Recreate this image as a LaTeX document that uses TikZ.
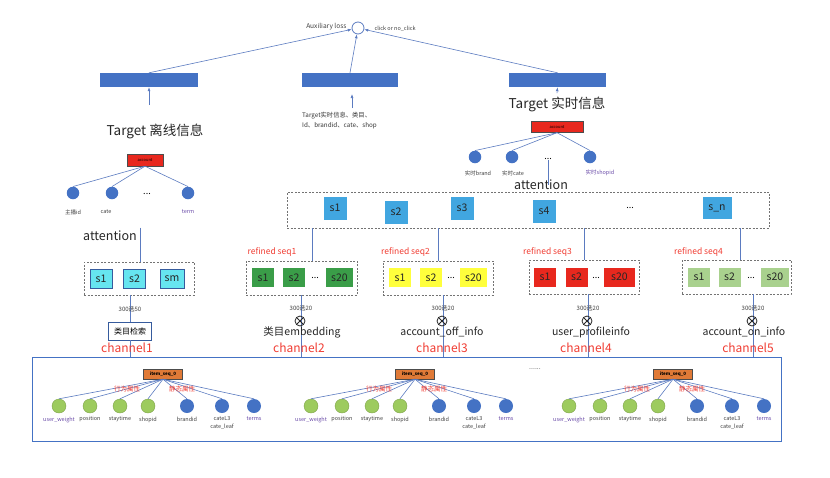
\documentclass[tikz,border=0pt]{standalone}
\usepackage{fontspec}
\setmainfont{Noto Sans CJK SC}
\usepackage{xcolor}
\usepackage{tikz}
\usetikzlibrary{arrows.meta,positioning}

\definecolor{barblue}{HTML}{4472C4}
\definecolor{lineblue}{HTML}{5B7BC0}
\definecolor{cellblue}{HTML}{41A6E0}
\definecolor{cyancell}{HTML}{66E5F0}
\definecolor{dgreen}{HTML}{3A9D48}
\definecolor{yelcell}{HTML}{FFFF3C}
\definecolor{acctred}{HTML}{E8281E}
\definecolor{lgreen}{HTML}{A9D18E}
\definecolor{leafgreen}{HTML}{9DCB5E}
\definecolor{seqorange}{HTML}{E07A37}
\definecolor{purp}{HTML}{6A4BA8}
\definecolor{redtxt}{HTML}{F03C32}

\begin{document}
\begin{tikzpicture}[x=1pt, y=-1pt,
    ln/.style={draw=lineblue, line width=0.6pt},
    arr/.style={ln, -{Latex[length=4pt, width=3pt]}},
    bar/.style={fill=barblue, minimum height=14pt, inner sep=0},
    acct/.style={draw=black!70, fill=acctred, minimum width=36pt, minimum height=12pt, inner sep=0, font=\fontsize{4}{5}\selectfont},
    leaf/.style={circle, fill=barblue, minimum size=12.5pt, inner sep=0},
    gleaf/.style={circle, fill=leafgreen, draw=leafgreen!80!black, line width=0.4pt, minimum size=14pt, inner sep=0},
    leaflbl/.style={font=\fontsize{5.5}{8}\selectfont, text=black!75, inner sep=0, align=center},
    grp/.style={draw=black!55, dash pattern=on 2pt off 1.5pt, line width=0.6pt, inner sep=0},
    cell/.style={minimum width=22pt, minimum height=19pt, inner sep=0, font=\fontsize{10.5}{12}\selectfont, text=black!85},
    dots/.style={font=\fontsize{9}{10}\selectfont, inner sep=0},
    reflbl/.style={font=\fontsize{8.5}{10}\selectfont, text=redtxt},
    chan/.style={font=\fontsize{12}{14}\selectfont, text=redtxt},
    head/.style={font=\fontsize{13.5}{16}\selectfont, text=black!85},
    attn/.style={font=\fontsize{12.5}{14}\selectfont, text=black!85},
    sel/.style={font=\fontsize{6}{7}\selectfont, text=black!75, inner sep=0},
    ox/.style={circle, draw=black!85, line width=0.8pt, minimum size=10pt, inner sep=0,
      path picture={\draw[black!85, line width=0.8pt]
        (path picture bounding box.north west) -- (path picture bounding box.south east)
        (path picture bounding box.north east) -- (path picture bounding box.south west);}},
    midlbl/.style={font=\fontsize{10.5}{12}\selectfont, text=black!85},
    seqbox/.style={draw=black!70, fill=seqorange, minimum width=39pt, minimum height=10pt, inner sep=0, font=\fontsize{4.5}{5}\selectfont\bfseries},
    attr/.style={font=\fontsize{6.5}{8}\selectfont, text=redtxt, inner sep=0}
]
\useasboundingbox (0,0) rectangle (830,477);

% auxiliary loss and the three towers
\node[circle, draw=lineblue, line width=0.8pt, minimum size=12pt, inner sep=0] (aux) at (358,28) {};
\node[font=\fontsize{6.6}{8}\selectfont, text=black!75, anchor=east] (auxt) at (350,27) {Auxiliary loss};
\node[font=\fontsize{5.5}{7}\selectfont, text=black!75, anchor=west] (clk) at (371,29) {click or no\_click};

\node[bar, minimum width=98pt] (barL) at (149,80) {};
\node[bar, minimum width=96pt] (barM) at (350,80) {};
\node[bar, minimum width=97pt] (barR) at (557.5,80) {};
\draw[arr] (barL.north) -- (aux);
\draw[arr] (barM.north) -- (aux);
\draw[arr] (barR.north) -- (aux);

\coordinate (inL) at (149,105);
\draw[arr] (inL) -- (barL.south);
\node[head] (tgtL) at (155,131) {Target 离线信息};

\coordinate (inM) at (352,108);
\coordinate (tipM) at (352,94);
\draw[arr] (inM) -- (tipM);
\node[font=\fontsize{6.3}{10}\selectfont, align=left, anchor=north west, inner sep=0, text=black!80] (tgtM) at (302,112) {Target实时信息、类目、\\Id、brandid、cate、shop};

\node[head] (tgtR) at (557,104) {Target 实时信息};
\draw[arr] (tgtR.north) -- (barR.south);

% realtime target tree
\node[acct, minimum width=52pt, minimum height=11pt] (acR) at (557,127) {account};
\node[leaf] (r1) at (475,157) {};
\node[leaf] (r2) at (512,157) {};
\node[dots] (rdots) at (548,159) {...};
\node[leaf] (r3) at (590,157) {};
\draw[ln] (acR.south) -- (r1.north);
\draw[ln] (acR.south) -- (r2.north);
\draw[ln] (acR.south) -- (r3.north);
\node[leaflbl] (r1t) at (478,173) {实时brand};
\node[leaflbl] (r2t) at (513,173) {实时cate};
\node[leaflbl, text=purp] (r3t) at (600,173) {实时shopid};

% offline target tree
\node[acct] (acL) at (145,160) {account};
\node[leaf] (l1) at (73,193) {};
\node[leaf] (l2) at (112,193) {};
\node[dots] (ldots) at (147,194) {...};
\node[leaf] (l3) at (188,193) {};
\draw[ln] (acL.south) -- (l1.north);
\draw[ln] (acL.south) -- (l2.north);
\draw[ln] (acL.south) -- (l3.north);
\node[leaflbl] (l1t) at (73,212) {主播id};
\node[leaflbl] (l2t) at (106,212) {cate};
\node[leaflbl, text=purp] (l3t) at (188,212) {term};

% outer frame of the item sequences
\node[draw=barblue, line width=1pt, minimum width=749pt, minimum height=84pt, inner sep=0] (frame) at (406.5,399) {};

% channel1
\node[attn] (attL) at (110,236) {attention};
\node[grp, minimum width=110pt, minimum height=33pt] (g1) at (139,278.5) {};
\draw[ln] (attL.north east) -- (attL.north east |- g1.north);
\node[cell, fill=cyancell, draw=barblue!80!black] (g1a) at (101,278.5) {s1};
\node[cell, fill=cyancell, draw=barblue!80!black] (g1b) at (134.5,278.5) {s2};
\node[cell, fill=cyancell, draw=barblue!80!black, minimum width=24pt] (g1c) at (172,278.5) {sm};
\node[draw=barblue!80!black, font=\fontsize{8}{10}\selectfont, minimum width=43pt, minimum height=18pt, inner sep=0] (srch) at (130,331) {类目检索};
\draw[ln] (srch.north |- g1.south) -- (srch.north);
\draw[ln] (srch.south) -- (srch.south |- frame.north);
\node[sel] (sel1) at (130,309) {300选50};
\node[chan] (ch1) at (127,348) {channel1};

% attention over the item sequences
\node[attn] (attM) at (541,185) {attention};
\draw[ln] (rdots.south) -- (rdots.south |- attM.center);
\node[grp, minimum width=482pt, minimum height=36pt] (g0) at (528,210) {};
\node[cell, fill=cellblue, minimum width=23pt, minimum height=23pt] (s1) at (335,208) {s1};
\node[cell, fill=cellblue, minimum width=23pt, minimum height=23pt] (s2) at (396,212) {s2};
\node[cell, fill=cellblue, minimum width=23pt, minimum height=23pt] (s3) at (462,208) {s3};
\node[cell, fill=cellblue, minimum width=23pt, minimum height=23pt] (s4) at (544,211) {s4};
\node[dots] (sdots) at (630,208) {...};
\node[cell, fill=cellblue, minimum width=29pt, minimum height=22pt] (sn) at (717,208) {s\_n};

% channel2
\node[grp, minimum width=111pt, minimum height=34pt] (g2) at (301.5,278) {};
\node[cell, fill=dgreen] (g2a) at (263,277.5) {s1};
\node[cell, fill=dgreen] (g2b) at (294,277.5) {s2};
\node[dots] (g2d) at (315,278) {...};
\node[cell, fill=dgreen, minimum width=27pt] (g2c) at (339.5,277.5) {s20};
\node[reflbl] (rf1) at (272,252) {refined seq1};
\draw[ln] ([xshift=10.5pt]g2.north) -- ([xshift=10.5pt]g2.north |- g0.south);
\draw[ln] (g2.south) -- (g2.south |- frame.north);
\node[sel] (sel2) at (301,308) {300选20};
\node[ox] (ox2) at (300,321) {};
\node[midlbl] (emb2) at (302,332) {类目embedding};
\node[chan] (ch2) at (299,348) {channel2};

% channel3
\node[grp, minimum width=110pt, minimum height=34pt] (g3) at (438,278) {};
\node[cell, fill=yelcell] (g3a) at (400,277.5) {s1};
\node[cell, fill=yelcell] (g3b) at (431,277.5) {s2};
\node[dots] (g3d) at (451,278) {...};
\node[cell, fill=yelcell, minimum width=27pt] (g3c) at (473.5,277.5) {s20};
\node[reflbl] (rf2) at (405.5,252) {refined seq2};
\draw[ln] (g3.north) -- (g3.north |- g0.south);
\draw[ln] ([xshift=5pt]g3.south) -- ([xshift=5pt]g3.south |- frame.north);
\node[sel] (sel3) at (443,308) {300选20};
\node[ox] (ox3) at (442,321) {};
\node[midlbl] (emb3) at (442,332) {account\_off\_info};
\node[chan] (ch3) at (442,348) {channel3};

% channel4
\node[grp, minimum width=110pt, minimum height=34pt] (g4) at (584,277) {};
\node[cell, fill=acctred] (g4a) at (545,277) {s1};
\node[cell, fill=acctred] (g4b) at (576.5,277) {s2};
\node[dots] (g4d) at (596,278) {...};
\node[cell, fill=acctred, minimum width=31pt] (g4c) at (619.5,277) {s20};
\node[reflbl] (rf3) at (547.5,252) {refined seq3};
\draw[ln] (g4.north) -- (g4.north |- g0.south);
\draw[ln] ([xshift=4pt]g4.south) -- ([xshift=4pt]g4.south |- frame.north);
\node[sel] (sel4) at (588,308) {300选20};
\node[ox] (ox4) at (587,321) {};
\node[midlbl] (emb4) at (591,332) {user\_profileinfo};
\node[chan] (ch4) at (586,348) {channel4};

% channel5
\node[grp, minimum width=109pt, minimum height=34pt] (g5) at (736.5,277) {};
\node[cell, fill=lgreen] (g5a) at (699,277) {s1};
\node[cell, fill=lgreen] (g5b) at (729.5,277) {s2};
\node[dots] (g5d) at (751,278) {...};
\node[cell, fill=lgreen, minimum width=28pt] (g5c) at (775,277) {s20};
\node[reflbl] (rf4) at (698.5,252) {refined seq4};
\draw[ln] ([xshift=3.5pt]g5.north) -- ([xshift=3.5pt]g5.north |- g0.south);
\draw[ln] ([xshift=16.5pt]g5.south) -- ([xshift=16.5pt]g5.south |- frame.north);
\node[sel] (sel5) at (753,308) {300选20};
\node[ox] (ox5) at (752,321) {};
\node[midlbl] (emb5) at (744,332) {account\_on\_info};
\node[chan] (ch5) at (748,348) {channel5};

% item sequence trees
\node[font=\fontsize{7}{8}\selectfont, text=black!75] (more) at (535,369) {......};
\foreach \k/\dx in {1/0, 2/252, 3/510}{
  \node[seqbox] (it\k) at (163+\dx,374) {item\_seq\_0};
  \foreach \i/\x/\sty/\col/\txt in {1/59/gleaf/purp/user\_weight, 2/90/gleaf/black!75/position,
      3/120/gleaf/black!75/staytime, 4/148/gleaf/black!75/shopid, 5/187/leaf/black!75/brandid,
      6/222/leaf/black!75/{cateL3\\cate\_leaf}, 7/254/leaf/purp/terms}{
    \node[\sty, minimum size=14pt] (c\k\i) at (\x+\dx,406) {};
    \draw[ln] (it\k.south) -- (c\k\i.north);
    \node[leaflbl, text=\col, anchor=north] (n\k\i) at (\x+\dx,416.5) {\txt};
  }
  \node[attr] (bh\k) at (127+\dx,389) {行为属性};
  \node[attr] (jt\k) at (182+\dx,389) {静态属性};
}
\end{tikzpicture}
\end{document}
